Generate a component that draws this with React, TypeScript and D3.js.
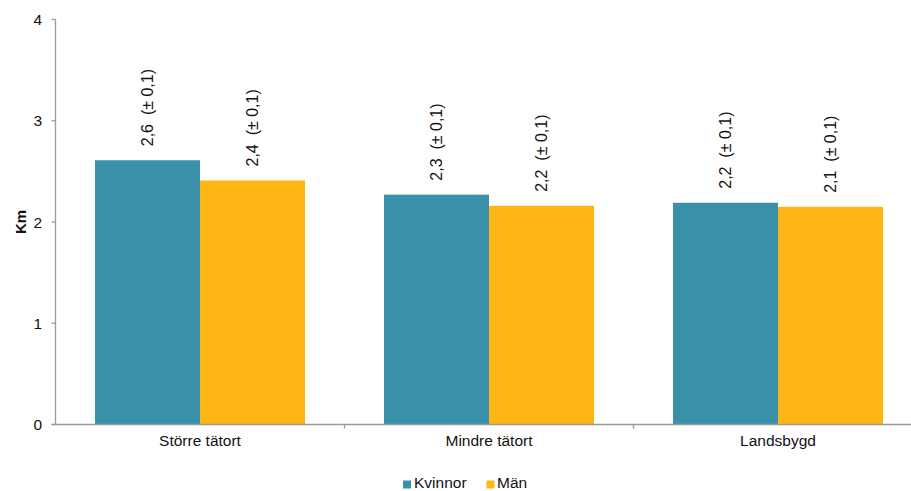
import React from "react";
import * as d3 from "d3";

const categories = ["Större tätort", "Mindre tätort", "Landsbygd"];
const seriesNames = ["Kvinnor", "Män"];
const kvinnor = [2.61, 2.27, 2.19];
const man = [2.41, 2.16, 2.15];
const kvinnorLabels = ["2,6  (± 0,1)", "2,3  (± 0,1)", "2,2  (± 0,1)"];
const manLabels = ["2,4  (± 0,1)", "2,2  (± 0,1)", "2,1  (± 0,1)"];
const yTicks = [0, 1, 2, 3, 4];
const colors = ["#3A90A8", "#FDB614"];

export default function App() {
  const W = 911, H = 491;
  const left = 55.5, right = 922.5, top = 19.5, bottom = 424.5;
  const x = d3.scaleBand<string>().domain(categories).range([left, right]).paddingInner(0).paddingOuter(0);
  const inner = d3.scaleBand<string>().domain(seriesNames).range([0, x.bandwidth()]).paddingInner(0).paddingOuter(0.376);
  const y = d3.scaleLinear().domain([0, 4]).range([bottom, top]);
  const series = [kvinnor, man];
  const labels = [kvinnorLabels, manLabels];
  const font = "Liberation Sans, Arial, sans-serif";
  const axisColor = "#9a9a9a";
  const fs = 15.5;
  return (
    <svg width={W} height={H} style={{ position: "absolute", left: 0, top: 0, background: "#fff" }} fontFamily={font}>
      {categories.map((c, i) =>
        series.map((s, j) => {
          const bx = (x(c) as number) + (inner(seriesNames[j]) as number);
          const bw = inner.bandwidth();
          const ty = y(s[i]);
          return (
            <g key={c + j}>
              <rect x={bx} y={ty} width={bw} height={bottom - ty} fill={colors[j]} />
              <text
                transform={`translate(${bx + bw / 2 + 5.5},${ty - 14}) rotate(-90)`}
                fontSize={16}
                fill="#111"
                style={{ whiteSpace: "pre" }}
              >
                {labels[j][i]}
              </text>
            </g>
          );
        })
      )}
      {/* y axis */}
      <line x1={left} x2={left} y1={top} y2={bottom} stroke={axisColor} strokeWidth={1.3} />
      {yTicks.map((t) => (
        <g key={t}>
          <line x1={left - 4} x2={left} y1={y(t)} y2={y(t)} stroke={axisColor} strokeWidth={1.3} />
          <text x={42} y={y(t) + 5.5} textAnchor="end" fontSize={fs} fill="#111">{t}</text>
        </g>
      ))}
      {/* x axis */}
      <line x1={left - 4} x2={right} y1={bottom} y2={bottom} stroke={axisColor} strokeWidth={1.3} />
      {categories.map((c, i) => (
        <g key={c}>
          <line x1={(x(c) as number) + x.bandwidth()} x2={(x(c) as number) + x.bandwidth()} y1={bottom} y2={bottom + 4} stroke={axisColor} strokeWidth={1.3} />
          <text x={(x(c) as number) + x.bandwidth() / 2} y={bottom + 21} textAnchor="middle" fontSize={fs} fill="#111">{c}</text>
        </g>
      ))}
      <text transform={`translate(${26},${222}) rotate(-90)`} textAnchor="middle" fontSize={15} fontWeight="bold" fill="#111">Km</text>
      {/* legend */}
      <rect x={403} y={480.5} width={8} height={8} fill={colors[0]} />
      <text x={414} y={488} fontSize={fs} fill="#111">{seriesNames[0]}</text>
      <rect x={486.5} y={480.5} width={8} height={8} fill={colors[1]} />
      <text x={497} y={488} fontSize={fs} fill="#111">{seriesNames[1]}</text>
    </svg>
  );
}
